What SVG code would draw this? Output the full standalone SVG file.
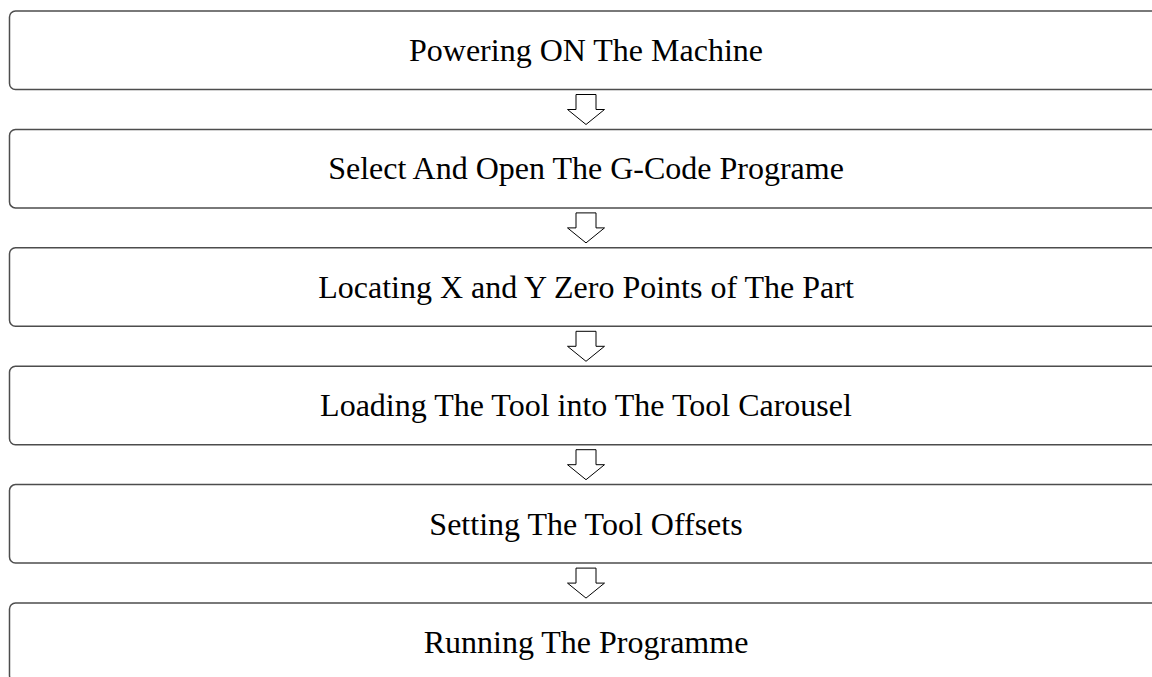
<svg xmlns="http://www.w3.org/2000/svg" width="1152" height="677" viewBox="0 0 1152 677">
  <defs>
    <style>
      .box { fill: #ffffff; stroke: #4d4d4d; stroke-width: 1.5; }
      .label { font-family: "Liberation Serif", "Times New Roman", serif; font-size: 32px; fill: #000000; text-anchor: middle; }
      .flow { fill: #ffffff; stroke: #000000; stroke-width: 1; stroke-linejoin: miter; }
    </style>
  </defs>
  <rect width="1152" height="677" fill="#ffffff"/>

  <!-- process steps -->
  <g id="step1">
    <rect class="box" x="9.5" y="11" width="1153" height="78.5" rx="6"/>
    <text class="label" x="586" y="61">Powering ON The Machine</text>
  </g>
  <g id="step2">
    <rect class="box" x="9.5" y="129.4" width="1153" height="78.5" rx="6"/>
    <text class="label" x="586" y="179.4">Select And Open The G-Code Programe</text>
  </g>
  <g id="step3">
    <rect class="box" x="9.5" y="247.8" width="1153" height="78.5" rx="6"/>
    <text class="label" x="586" y="297.8">Locating X and Y Zero Points of The Part</text>
  </g>
  <g id="step4">
    <rect class="box" x="9.5" y="366.2" width="1153" height="78.5" rx="6"/>
    <text class="label" x="586" y="416.2">Loading The Tool into The Tool Carousel</text>
  </g>
  <g id="step5">
    <rect class="box" x="9.5" y="484.6" width="1153" height="78.5" rx="6"/>
    <text class="label" x="586" y="534.6">Setting The Tool Offsets</text>
  </g>
  <g id="step6">
    <rect class="box" x="9.5" y="603" width="1153" height="78.5" rx="6"/>
    <text class="label" x="586" y="653">Running The Programme</text>
  </g>

  <!-- hollow block arrows between steps -->
  <g id="connectors">
    <path class="flow" transform="translate(0,89.5)" d="M576,5 H596 V20 H604.5 L586,35 L567.5,20 H576 Z"/>
    <path class="flow" transform="translate(0,207.9)" d="M576,5 H596 V20 H604.5 L586,35 L567.5,20 H576 Z"/>
    <path class="flow" transform="translate(0,326.3)" d="M576,5 H596 V20 H604.5 L586,35 L567.5,20 H576 Z"/>
    <path class="flow" transform="translate(0,444.7)" d="M576,5 H596 V20 H604.5 L586,35 L567.5,20 H576 Z"/>
    <path class="flow" transform="translate(0,563.1)" d="M576,5 H596 V20 H604.5 L586,35 L567.5,20 H576 Z"/>
  </g>
</svg>
